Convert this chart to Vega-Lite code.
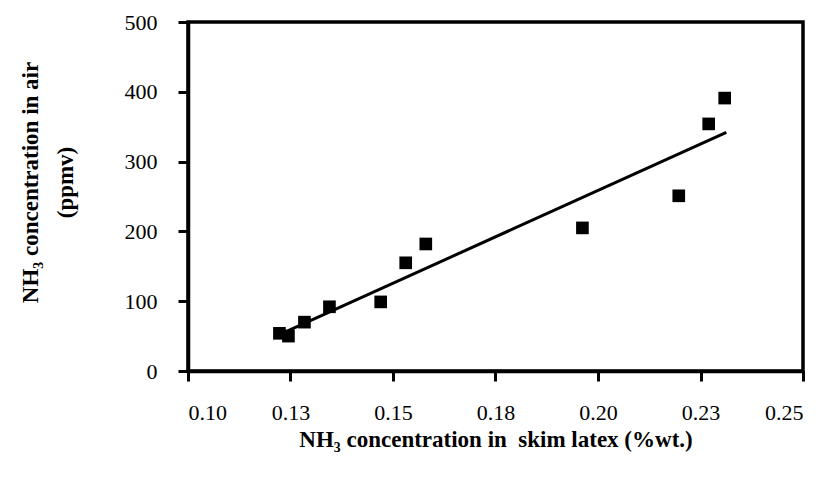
{
  "$schema": "https://vega.github.io/schema/vega-lite/v6.json",
  "autosize": "none",
  "width": 615,
  "height": 349,
  "padding": {"left": 188, "top": 22, "right": 22, "bottom": 115},
  "background": "white",
  "config": {
    "font": "Liberation Serif",
    "view": {"stroke": "black", "strokeWidth": 3.5},
    "axis": {
      "domainColor": "black",
      "domainWidth": 3.5,
      "tickColor": "black",
      "tickWidth": 3,
      "tickSize": 10,
      "grid": false,
      "labelFont": "Liberation Serif",
      "labelFontSize": 22,
      "labelColor": "black",
      "labelPadding": 21,
      "titleFont": "Liberation Serif",
      "titleFontSize": 23,
      "titleFontWeight": "bold",
      "titleColor": "black"
    }
  },
  "datasets": {
    "points": [
      {"x": 0.1223, "y": 54},
      {"x": 0.1245, "y": 50},
      {"x": 0.1284, "y": 70},
      {"x": 0.1345, "y": 92},
      {"x": 0.1470, "y": 99},
      {"x": 0.1531, "y": 155},
      {"x": 0.1580, "y": 182},
      {"x": 0.1962, "y": 205},
      {"x": 0.2197, "y": 251},
      {"x": 0.2270, "y": 354},
      {"x": 0.2309, "y": 391}
    ],
    "fit": [
      {"x": 0.1223, "y": 52},
      {"x": 0.2313, "y": 342}
    ]
  },
  "layer": [
    {
      "data": {"name": "fit"},
      "mark": {"type": "line", "color": "black", "strokeWidth": 3},
      "encoding": {
        "x": {"field": "x", "type": "quantitative"},
        "y": {"field": "y", "type": "quantitative"}
      }
    },
    {
      "data": {"name": "points"},
      "mark": {"type": "point", "shape": "square", "filled": true, "color": "black", "opacity": 1, "size": 160},
      "encoding": {
        "x": {
          "field": "x",
          "type": "quantitative",
          "scale": {"domain": [0.1, 0.25], "nice": false, "zero": false},
          "axis": {
            "values": [0.1, 0.125, 0.15, 0.175, 0.2, 0.225, 0.25],
            "labelExpr": "format(datum.value + 1e-9, '.2f')",
            "title": "NH₃ concentration in \u00a0skim latex (%wt.)",
            "titlePadding": 5
          }
        },
        "y": {
          "field": "y",
          "type": "quantitative",
          "scale": {"domain": [0, 500], "nice": false},
          "axis": {
            "values": [0, 100, 200, 300, 400, 500],
            "title": ["NH₃ concentration in air", "(ppmv)"],
            "titleLineHeight": 35,
            "titleX": -146,
            "titleY": 160,
            "titleBaseline": "bottom"
          }
        }
      }
    }
  ]
}
